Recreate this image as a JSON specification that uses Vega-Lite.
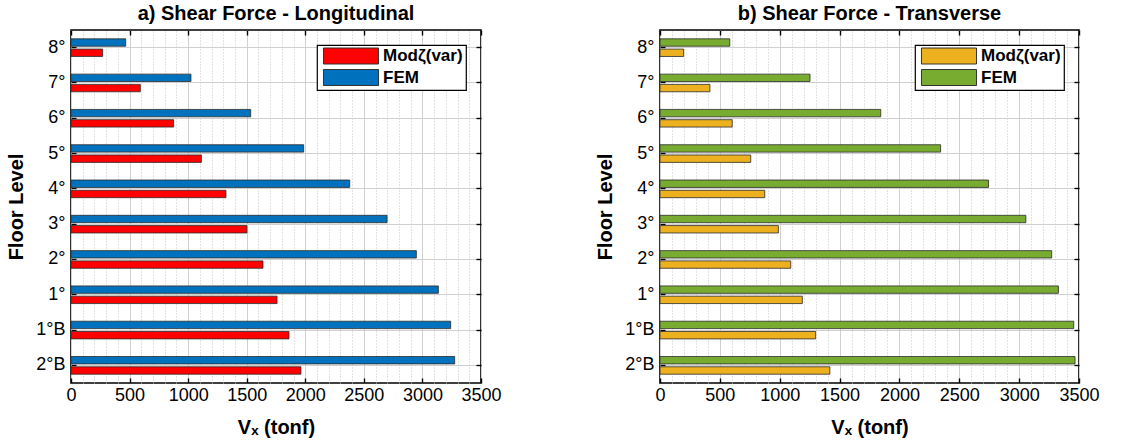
{
  "$schema": "https://vega.github.io/schema/vega-lite/v6.json",
  "padding": {"left": 5, "top": 3, "right": 5, "bottom": 5},
  "background": "white",
  "config": {
    "font": "Liberation Sans",
    "view": {"stroke": "#000000", "strokeWidth": 1.6},
    "title": {"fontSize": 20, "fontWeight": "bold", "color": "#000000", "offset": 5},
    "axis": {
      "labelFont": "Liberation Sans",
      "labelFontSize": 18,
      "labelColor": "#000000",
      "titleFont": "Liberation Sans",
      "titleFontSize": 20,
      "titleFontWeight": "bold",
      "titleColor": "#000000",
      "domain": false,
      "tickColor": "#000000",
      "tickWidth": 1.4,
      "tickSize": -5
    },
    "legend": {
      "orient": "top-right",
      "offset": 15,
      "title": null,
      "labelFont": "Liberation Sans",
      "labelFontSize": 17,
      "labelFontWeight": "bold",
      "labelColor": "#000000",
      "symbolType": "M-3.44,-1H3.44V1H-3.44Z",
      "symbolSize": 256,
      "symbolStrokeColor": "#333333",
      "symbolStrokeWidth": 1,
      "symbolOpacity": 1,
      "symbolOffset": 23,
      "labelOffset": 23.5,
      "rowPadding": 0.5,
      "padding": 2.5,
      "strokeColor": "#000000",
      "strokeWidth": 1.2,
      "fillColor": "#ffffff"
    }
  },
  "datasets": {
    "shear": [
      {"dir": "L", "floor": "8°", "series": "FEM", "value": 467},
      {"dir": "L", "floor": "8°", "series": "Modζ(var)", "value": 270},
      {"dir": "L", "floor": "7°", "series": "FEM", "value": 1024},
      {"dir": "L", "floor": "7°", "series": "Modζ(var)", "value": 592},
      {"dir": "L", "floor": "6°", "series": "FEM", "value": 1534},
      {"dir": "L", "floor": "6°", "series": "Modζ(var)", "value": 876},
      {"dir": "L", "floor": "5°", "series": "FEM", "value": 1986},
      {"dir": "L", "floor": "5°", "series": "Modζ(var)", "value": 1113},
      {"dir": "L", "floor": "4°", "series": "FEM", "value": 2379},
      {"dir": "L", "floor": "4°", "series": "Modζ(var)", "value": 1323},
      {"dir": "L", "floor": "3°", "series": "FEM", "value": 2698},
      {"dir": "L", "floor": "3°", "series": "Modζ(var)", "value": 1502},
      {"dir": "L", "floor": "2°", "series": "FEM", "value": 2948},
      {"dir": "L", "floor": "2°", "series": "Modζ(var)", "value": 1639},
      {"dir": "L", "floor": "1°", "series": "FEM", "value": 3136},
      {"dir": "L", "floor": "1°", "series": "Modζ(var)", "value": 1759},
      {"dir": "L", "floor": "1°B", "series": "FEM", "value": 3241},
      {"dir": "L", "floor": "1°B", "series": "Modζ(var)", "value": 1861},
      {"dir": "L", "floor": "2°B", "series": "FEM", "value": 3275},
      {"dir": "L", "floor": "2°B", "series": "Modζ(var)", "value": 1963},
      {"dir": "T", "floor": "8°", "series": "FEM", "value": 583},
      {"dir": "T", "floor": "8°", "series": "Modζ(var)", "value": 197},
      {"dir": "T", "floor": "7°", "series": "FEM", "value": 1253},
      {"dir": "T", "floor": "7°", "series": "Modζ(var)", "value": 417},
      {"dir": "T", "floor": "6°", "series": "FEM", "value": 1844},
      {"dir": "T", "floor": "6°", "series": "Modζ(var)", "value": 603},
      {"dir": "T", "floor": "5°", "series": "FEM", "value": 2344},
      {"dir": "T", "floor": "5°", "series": "Modζ(var)", "value": 758},
      {"dir": "T", "floor": "4°", "series": "FEM", "value": 2744},
      {"dir": "T", "floor": "4°", "series": "Modζ(var)", "value": 875},
      {"dir": "T", "floor": "3°", "series": "FEM", "value": 3056},
      {"dir": "T", "floor": "3°", "series": "Modζ(var)", "value": 989},
      {"dir": "T", "floor": "2°", "series": "FEM", "value": 3272},
      {"dir": "T", "floor": "2°", "series": "Modζ(var)", "value": 1092},
      {"dir": "T", "floor": "1°", "series": "FEM", "value": 3328},
      {"dir": "T", "floor": "1°", "series": "Modζ(var)", "value": 1189},
      {"dir": "T", "floor": "1°B", "series": "FEM", "value": 3456},
      {"dir": "T", "floor": "1°B", "series": "Modζ(var)", "value": 1300},
      {"dir": "T", "floor": "2°B", "series": "FEM", "value": 3467},
      {"dir": "T", "floor": "2°B", "series": "Modζ(var)", "value": 1419}
    ]
  },
  "bounds": "flush",
  "spacing": 179,
  "resolve": {"scale": {"color": "independent"}, "legend": {"color": "independent"}},
  "hconcat": [
    {
      "width": 410,
      "height": 353,
      "title": "a) Shear Force - Longitudinal",
      "data": {"name": "shear"},
      "transform": [{"filter": "datum.dir === 'L'"}],
      "layer": [
        {
          "mark": {"type": "bar", "stroke": "#2b2b2b", "strokeWidth": 0.8},
          "encoding": {
            "x": {
              "field": "value", "type": "quantitative",
              "scale": {"domain": [0, 3500], "nice": false},
              "axis": {
                "title": "Vₓ (tonf)",
                "titlePadding": 13,
                "values": [0,100,200,300,400,500,600,700,800,900,1000,1100,1200,1300,1400,1500,1600,1700,1800,1900,2000,2100,2200,2300,2400,2500,2600,2700,2800,2900,3000,3100,3200,3300,3400,3500],
                "labelExpr": "datum.value % 500 === 0 ? datum.label : ''",
                "format": "d",
                "labelOverlap": false,
                "labelFlush": false,
                "labelBound": false,
                "labelPadding": 8,
                "grid": true,
                "gridColor": {"condition": {"test": "datum.value % 500 === 0", "value": "#d0d0d0"}, "value": "#c4c4c4"},
                "gridDash": {"condition": {"test": "datum.value % 500 === 0", "value": []}, "value": [1, 2]},
                "gridWidth": 1,
                "tickOpacity": {"condition": {"test": "datum.value % 500 === 0", "value": 1}, "value": 0}
              }
            },
            "y": {
              "field": "floor", "type": "nominal",
              "sort": ["8°", "7°", "6°", "5°", "4°", "3°", "2°", "1°", "1°B", "2°B"],
              "scale": {"paddingInner": 0.5, "paddingOuter": 0.25},
              "axis": {
                "title": "Floor Level",
                "titlePadding": 9,
                "labelPadding": 11,
                "bandPosition": 0.5,
                "grid": true,
                "gridColor": "#d0d0d0",
                "gridWidth": 1
              }
            },
            "yOffset": {
              "field": "series",
              "scale": {"domain": ["FEM", "Modζ(var)"], "paddingInner": 0.28}
            },
            "color": {
              "field": "series", "type": "nominal",
              "scale": {"domain": ["Modζ(var)", "FEM"], "range": ["#ff0000", "#0072bd"]},
              "legend": {}
            }
          }
        },
        {
          "mark": {"type": "bar", "opacity": 0},
          "encoding": {
            "x": {
              "field": "value", "type": "quantitative",
              "axis": {"orient": "top", "title": null, "labels": false, "grid": false, "minExtent": 0, "maxExtent": 0, "values": [0, 500, 1000, 1500, 2000, 2500, 3000, 3500]}
            },
            "y": {
              "field": "floor", "type": "nominal",
              "sort": ["8°", "7°", "6°", "5°", "4°", "3°", "2°", "1°", "1°B", "2°B"],
              "axis": {"orient": "right", "title": null, "labels": false, "grid": false, "minExtent": 0, "maxExtent": 0, "bandPosition": 0.5}
            }
          }
        }
      ],
      "resolve": {"axis": {"x": "independent", "y": "independent"}}
    },
    {
      "width": 419,
      "height": 353,
      "title": "b) Shear Force - Transverse",
      "data": {"name": "shear"},
      "transform": [{"filter": "datum.dir === 'T'"}],
      "layer": [
        {
          "mark": {"type": "bar", "stroke": "#2b2b2b", "strokeWidth": 0.8},
          "encoding": {
            "x": {
              "field": "value", "type": "quantitative",
              "scale": {"domain": [0, 3500], "nice": false},
              "axis": {
                "title": "Vₓ (tonf)",
                "titlePadding": 13,
                "values": [0,100,200,300,400,500,600,700,800,900,1000,1100,1200,1300,1400,1500,1600,1700,1800,1900,2000,2100,2200,2300,2400,2500,2600,2700,2800,2900,3000,3100,3200,3300,3400,3500],
                "labelExpr": "datum.value % 500 === 0 ? datum.label : ''",
                "format": "d",
                "labelOverlap": false,
                "labelFlush": false,
                "labelBound": false,
                "labelPadding": 8,
                "grid": true,
                "gridColor": {"condition": {"test": "datum.value % 500 === 0", "value": "#d0d0d0"}, "value": "#c4c4c4"},
                "gridDash": {"condition": {"test": "datum.value % 500 === 0", "value": []}, "value": [1, 2]},
                "gridWidth": 1,
                "tickOpacity": {"condition": {"test": "datum.value % 500 === 0", "value": 1}, "value": 0}
              }
            },
            "y": {
              "field": "floor", "type": "nominal",
              "sort": ["8°", "7°", "6°", "5°", "4°", "3°", "2°", "1°", "1°B", "2°B"],
              "scale": {"paddingInner": 0.5, "paddingOuter": 0.25},
              "axis": {
                "title": "Floor Level",
                "titlePadding": 9,
                "labelPadding": 11,
                "bandPosition": 0.5,
                "grid": true,
                "gridColor": "#d0d0d0",
                "gridWidth": 1
              }
            },
            "yOffset": {
              "field": "series",
              "scale": {"domain": ["FEM", "Modζ(var)"], "paddingInner": 0.28}
            },
            "color": {
              "field": "series", "type": "nominal",
              "scale": {"domain": ["Modζ(var)", "FEM"], "range": ["#edb120", "#77ac30"]},
              "legend": {}
            }
          }
        },
        {
          "mark": {"type": "bar", "opacity": 0},
          "encoding": {
            "x": {
              "field": "value", "type": "quantitative",
              "axis": {"orient": "top", "title": null, "labels": false, "grid": false, "minExtent": 0, "maxExtent": 0, "values": [0, 500, 1000, 1500, 2000, 2500, 3000, 3500]}
            },
            "y": {
              "field": "floor", "type": "nominal",
              "sort": ["8°", "7°", "6°", "5°", "4°", "3°", "2°", "1°", "1°B", "2°B"],
              "axis": {"orient": "right", "title": null, "labels": false, "grid": false, "minExtent": 0, "maxExtent": 0, "bandPosition": 0.5}
            }
          }
        }
      ],
      "resolve": {"axis": {"x": "independent", "y": "independent"}}
    }
  ]
}
